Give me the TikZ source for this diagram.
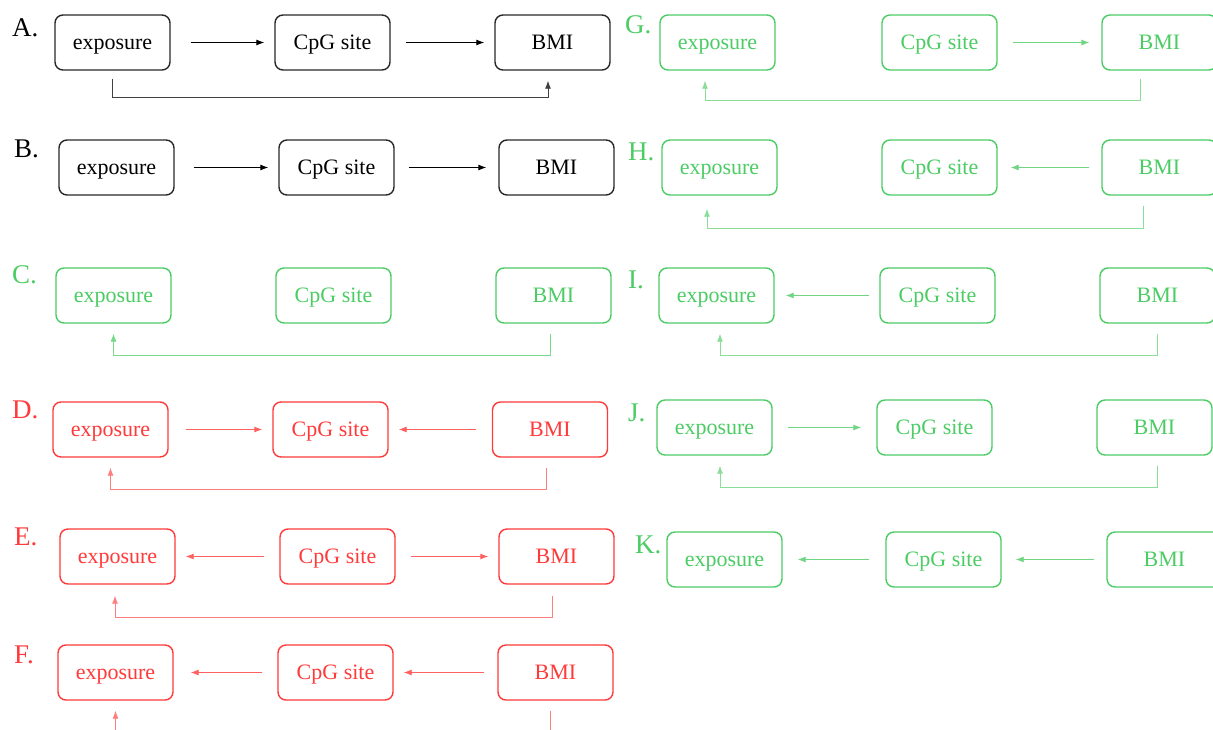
\documentclass[tikz,border=0pt]{standalone}
\usepackage{fontspec}
\setmainfont{Liberation Serif}
\usetikzlibrary{arrows.meta}

\definecolor{dagGreen}{RGB}{76,204,100}
\definecolor{dagRed}{RGB}{255,58,58}
\definecolor{dagGray}{RGB}{40,40,40}

\tikzset{
  varbox/.style={draw, line width=1.4pt, rounded corners=8pt, minimum width=115pt,
    minimum height=55pt, inner sep=0pt, text height=14.6pt, text depth=0pt,
    font=\fontsize{22}{26}\selectfont},
  panel/.style={anchor=west, inner sep=0pt, font=\fontsize{27}{30}\selectfont},
  arr/.style={line width=0.9pt, -{Latex[length=8pt,width=6pt]}},
  fb/.style={line width=0.9pt, -{Latex[length=8pt,width=6pt]}, rounded corners=0pt},
  blk/.style={dagGray, text=black},
  grn/.style={dagGreen},
  red/.style={dagRed},
}

\begin{document}
\begin{tikzpicture}[x=1pt, y=-1pt]
\useasboundingbox (0,0) rectangle (1213,729);
\fill[white] (0,0) rectangle (1213,729);
\clip (0,0) rectangle (1213,729);

% A. exposure -> CpG -> BMI, exposure -> BMI
\node[panel, black] (lA) at (12,28) {A.};
\node[varbox, blk] (aEx) at (112.5,42.5) {exposure};
\node[varbox, blk] (aCpg) at (332.5,42.5) {CpG site};
\node[varbox, blk] (aBmi) at (552.5,42.5) {BMI};
\draw[arr, black, shorten <=20pt, shorten >=10pt] (aEx) -- (aCpg);
\draw[arr, black, shorten <=15pt, shorten >=10pt] (aCpg) -- (aBmi);
\draw[fb, black!75, shorten <=8pt, shorten >=10pt] (aEx.south) -- ++(0,27) -| ([xshift=-4.5pt]aBmi.south);

% B. exposure -> CpG -> BMI
\node[panel, black] (lB) at (14,149) {B.};
\node[varbox, blk] (bEx) at (116.5,167.5) {exposure};
\node[varbox, blk] (bCpg) at (336.5,167.5) {CpG site};
\node[varbox, blk] (bBmi) at (556.5,167.5) {BMI};
\draw[arr, black, shorten <=19pt, shorten >=10pt] (bEx) -- (bCpg);
\draw[arr, black, shorten <=14pt, shorten >=12pt] (bCpg) -- (bBmi);

% C. BMI -> exposure
\node[panel, grn] (lC) at (12,275) {C.};
\node[varbox, grn] (cEx) at (113.5,295.5) {exposure};
\node[varbox, grn] (cCpg) at (333.5,295.5) {CpG site};
\node[varbox, grn] (cBmi) at (553.5,295.5) {BMI};
\draw[fb, dagGreen!75, shorten <=10pt, shorten >=10pt] ([xshift=-3.5pt]cBmi.south) -- ++(0,32) -| (cEx.south);

% D. exposure -> CpG <- BMI, BMI -> exposure
\node[panel, red] (lD) at (12,410) {D.};
\node[varbox, red] (dEx) at (110.5,429.5) {exposure};
\node[varbox, red] (dCpg) at (330.5,429.5) {CpG site};
\node[varbox, red] (dBmi) at (550,429.5) {BMI};
\draw[arr, dagRed!80, shorten <=17pt, shorten >=10pt] (dEx) -- (dCpg);
\draw[arr, dagRed!80, shorten <=16pt, shorten >=10pt] (dBmi) -- (dCpg);
\draw[fb, dagRed!65, shorten <=10pt, shorten >=10pt] ([xshift=-4pt]dBmi.south) -- ++(0,32) -| (dEx.south);

% E. exposure <- CpG -> BMI, BMI -> exposure
\node[panel, red] (lE) at (14,537) {E.};
\node[varbox, red] (eEx) at (117.5,556.5) {exposure};
\node[varbox, red] (eCpg) at (337.5,556.5) {CpG site};
\node[varbox, red] (eBmi) at (556.5,556.5) {BMI};
\draw[arr, dagRed!80, shorten <=15pt, shorten >=10pt] (eCpg) -- (eEx);
\draw[arr, dagRed!80, shorten <=15pt, shorten >=10pt] (eCpg) -- (eBmi);
\draw[fb, dagRed!65, shorten <=11pt, shorten >=11pt] ([xshift=-4.5pt]eBmi.south) -- ++(0,33) -| ([xshift=-2.5pt]eEx.south);

% F. exposure <- CpG <- BMI, BMI -> exposure
\node[panel, red] (lF) at (14,655) {F.};
\node[varbox, red] (fEx) at (115.5,672.5) {exposure};
\node[varbox, red] (fCpg) at (335.5,672.5) {CpG site};
\node[varbox, red] (fBmi) at (555.5,672.5) {BMI};
\draw[arr, dagRed!80, shorten <=15pt, shorten >=17pt] (fCpg) -- (fEx);
\draw[arr, dagRed!80, shorten <=13pt, shorten >=10pt] (fBmi) -- (fCpg);
\draw[fb, dagRed!65, shorten <=10pt, shorten >=10pt] ([xshift=-5.5pt]fBmi.south) -- ++(0,45) -| (fEx.south);

% G. CpG -> BMI, BMI -> exposure
\node[panel, grn] (lG) at (625,25) {G.};
\node[varbox, grn] (gEx) at (717.5,42.5) {exposure};
\node[varbox, grn] (gCpg) at (939.5,42.5) {CpG site};
\node[varbox, grn] (gBmi) at (1159.5,42.5) {BMI};
\draw[arr, dagGreen!80, shorten <=15pt, shorten >=12pt] (gCpg) -- (gBmi);
\draw[fb, dagGreen!65, shorten <=8pt, shorten >=10pt] ([xshift=-19.5pt]gBmi.south) -- ++(0,30) -| ([xshift=-12.5pt]gEx.south);

% H. CpG <- BMI, BMI -> exposure
\node[panel, grn] (lH) at (628,152) {H.};
\node[varbox, grn] (hEx) at (719.5,167.5) {exposure};
\node[varbox, grn] (hCpg) at (939.5,167.5) {CpG site};
\node[varbox, grn] (hBmi) at (1159.5,167.5) {BMI};
\draw[arr, dagGreen!80, shorten <=12pt, shorten >=13pt] (hBmi) -- (hCpg);
\draw[fb, dagGreen!65, shorten <=10pt, shorten >=13pt] ([xshift=-16.5pt]hBmi.south) -- ++(0,33) -| ([xshift=-12.5pt]hEx.south);

% I. exposure <- CpG, BMI -> exposure
\node[panel, grn] (lI) at (628,280) {I.};
\node[varbox, grn] (iEx) at (716.5,295.5) {exposure};
\node[varbox, grn] (iCpg) at (937.5,295.5) {CpG site};
\node[varbox, grn] (iBmi) at (1157.5,295.5) {BMI};
\draw[arr, dagGreen!80, shorten <=10pt, shorten >=11pt] (iCpg) -- (iEx);
\draw[fb, dagGreen!65, shorten <=10pt, shorten >=10pt] (iBmi.south) -- ++(0,32) -| ([xshift=3.5pt]iEx.south);

% J. exposure -> CpG, BMI -> exposure
\node[panel, grn] (lJ) at (628,413) {J.};
\node[varbox, grn] (jEx) at (714.5,427.5) {exposure};
\node[varbox, grn] (jCpg) at (934.5,427.5) {CpG site};
\node[varbox, grn] (jBmi) at (1154.5,427.5) {BMI};
\draw[arr, dagGreen!80, shorten <=15pt, shorten >=15pt] (jEx) -- (jCpg);
\draw[fb, dagGreen!65, shorten <=10pt, shorten >=10pt] ([xshift=2.5pt]jBmi.south) -- ++(0,32) -| ([xshift=5.5pt]jEx.south);

% K. exposure <- CpG <- BMI
\node[panel, grn] (lK) at (635,545) {K.};
\node[varbox, grn] (kEx) at (724.5,559.5) {exposure};
\node[varbox, grn] (kCpg) at (943.5,559.5) {CpG site};
\node[varbox, grn] (kBmi) at (1164.5,559.5) {BMI};
\draw[arr, dagGreen!80, shorten <=16pt, shorten >=15pt] (kCpg) -- (kEx);
\draw[arr, dagGreen!80, shorten <=12pt, shorten >=14pt] (kBmi) -- (kCpg);
\end{tikzpicture}
\end{document}
